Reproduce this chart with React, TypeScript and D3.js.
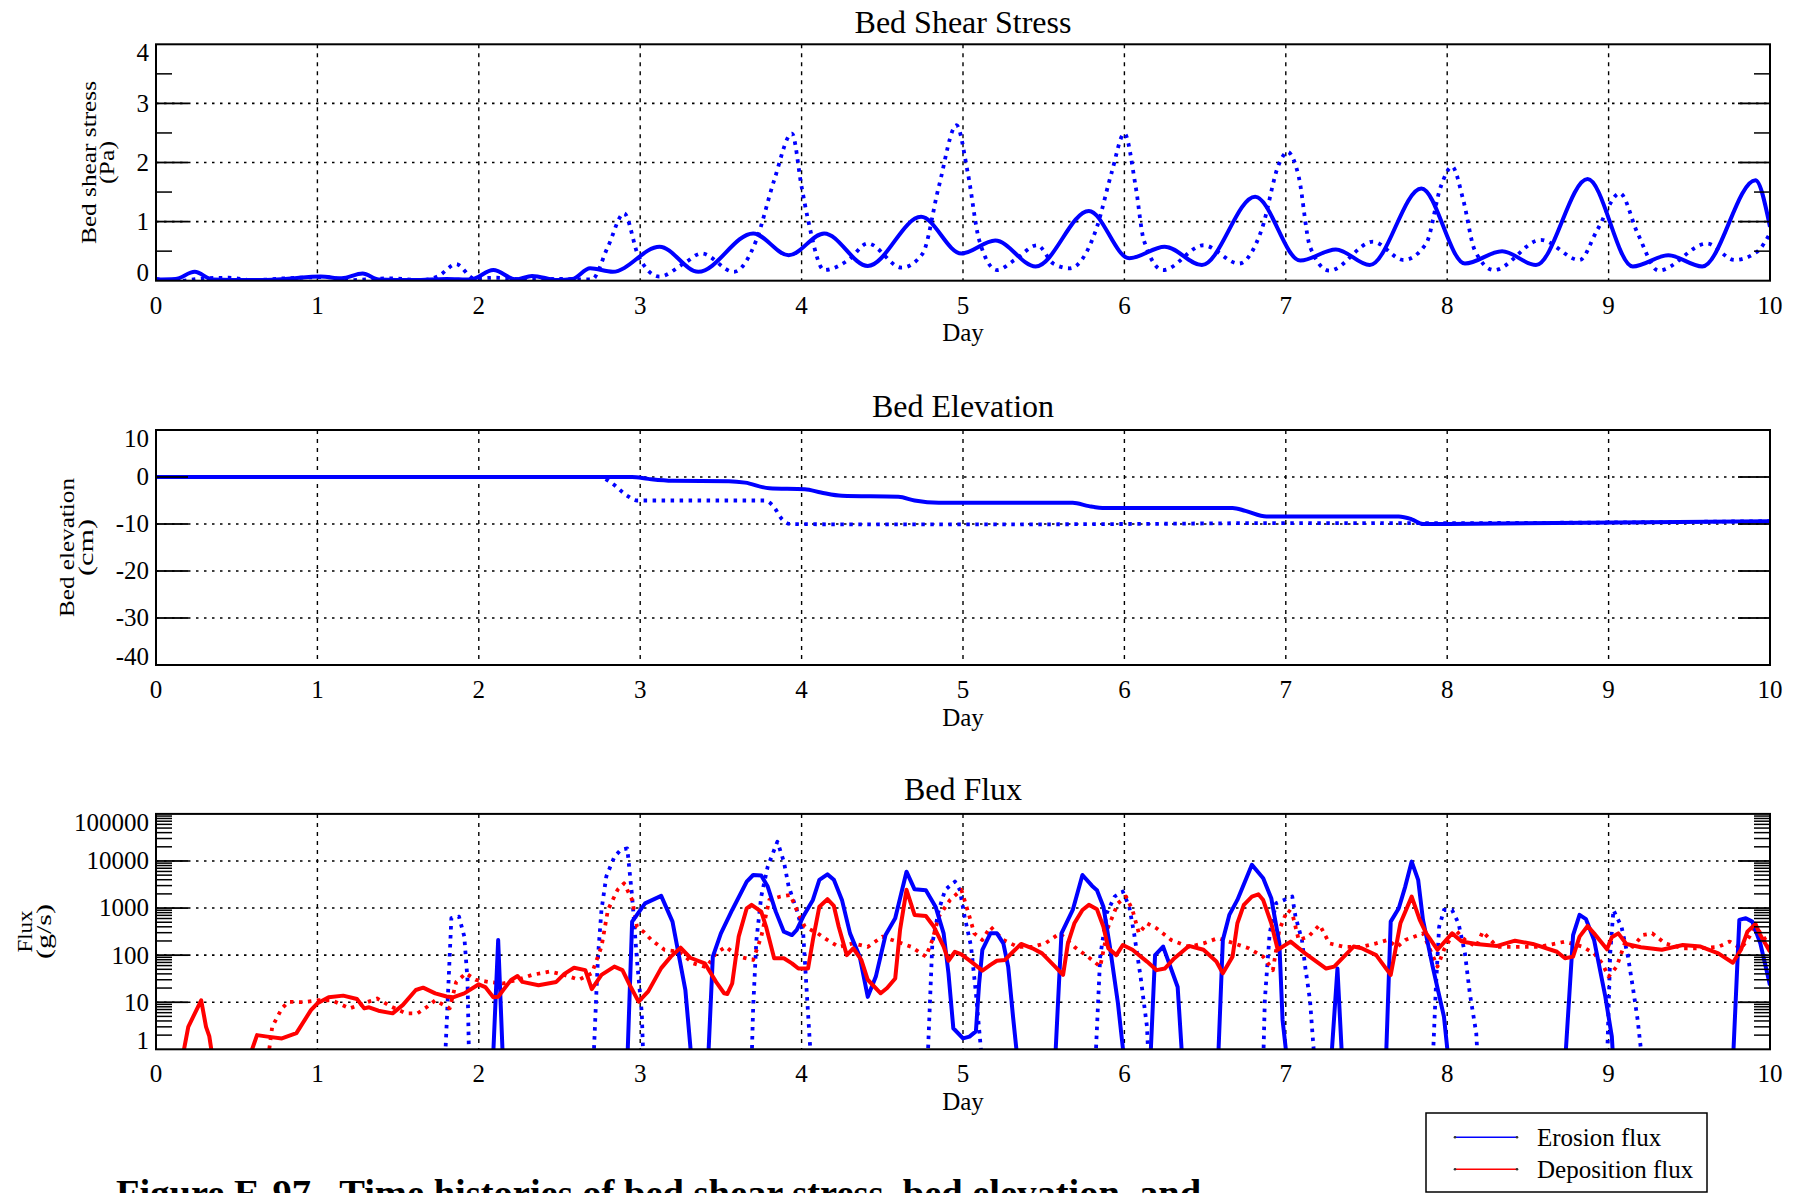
import React from 'react';
import * as d3 from 'd3';

type Pt = [number, number];

// ---- axis ticks ----
const dayTicks = [0, 1, 2, 3, 4, 5, 6, 7, 8, 9, 10];
const stressTicks = [0, 1, 2, 3, 4];
const stressMinor = [0.5, 1.5, 2.5, 3.5];
const elevTicks = [-40, -30, -20, -10, 0, 10];
const fluxTicks = [1, 10, 100, 1000, 10000, 100000];

// ---- bed shear stress (Pa) ----
const stressSolid: Pt[] = [
  [0, 0.02], [0.12, 0.03], [0.24, 0.15], [0.35, 0.02], [0.6, 0.01], [0.8, 0.03], [1.02, 0.07],
  [1.15, 0.04], [1.28, 0.12], [1.38, 0.02], [1.6, 0.01], [1.8, 0.03], [1.95, 0.02], [2.09, 0.18],
  [2.23, 0.02], [2.33, 0.08], [2.49, 0.01], [2.58, 0.03], [2.69, 0.21], [2.83, 0.15], [3.12, 0.575],
  [3.36, 0.15], [3.7, 0.8], [3.92, 0.43], [4.14, 0.8], [4.41, 0.25], [4.74, 1.08], [4.99, 0.46],
  [5.2, 0.68], [5.45, 0.24], [5.78, 1.18], [6.03, 0.38], [6.25, 0.575], [6.48, 0.265], [6.81, 1.42],
  [7.09, 0.34], [7.31, 0.53], [7.52, 0.265], [7.84, 1.56], [8.11, 0.29], [8.34, 0.5], [8.55, 0.265],
  [8.87, 1.72], [9.15, 0.24], [9.37, 0.43], [9.58, 0.24], [9.91, 1.7], [10.0, 0.91],
];
const stressDotted: Pt[] = [
  [0, 0.03], [0.15, 0.0], [0.3, 0.04], [0.45, 0.05], [0.6, 0.01], [0.8, 0.04], [1.05, 0.06],
  [1.2, 0.01], [1.45, 0.04], [1.65, 0.01], [1.75, 0.08], [1.86, 0.28], [1.97, 0.04], [2.1, 0.05],
  [2.3, 0.02], [2.5, 0.03], [2.7, 0.02], [2.8, 0.575], [2.9, 1.14], [2.99, 0.41], [3.12, 0.07],
  [3.27, 0.29], [3.38, 0.46], [3.58, 0.15], [3.72, 0.69], [3.83, 1.7], [3.94, 2.49], [4.0, 1.59],
  [4.04, 1.03], [4.14, 0.18], [4.29, 0.35], [4.41, 0.63], [4.62, 0.22], [4.75, 0.46], [4.85, 1.59],
  [4.96, 2.63], [5.03, 1.82], [5.1, 0.69], [5.21, 0.18], [5.32, 0.35], [5.46, 0.6], [5.56, 0.29],
  [5.66, 0.21], [5.83, 0.91], [5.92, 1.82], [6.0, 2.49], [6.07, 1.59], [6.12, 0.69], [6.24, 0.18],
  [6.49, 0.6], [6.71, 0.29], [6.85, 0.86], [6.96, 1.99], [7.01, 2.18], [7.08, 1.76], [7.15, 0.575],
  [7.27, 0.17], [7.54, 0.66], [7.73, 0.35], [7.87, 0.63], [7.96, 1.59], [8.03, 1.93], [8.1, 1.36],
  [8.17, 0.52], [8.29, 0.18], [8.58, 0.69], [8.82, 0.35], [8.93, 0.86], [9.07, 1.48], [9.18, 0.8],
  [9.31, 0.17], [9.61, 0.63], [9.78, 0.35], [9.92, 0.49], [10.0, 0.8],
];

// ---- bed elevation (cm) ----
const elevSolid: Pt[] = [
  [0, 0], [2.95, 0], [3.05, -0.4], [3.2, -0.8], [3.55, -0.9], [3.65, -1.2], [3.8, -2.4], [4.02, -2.6],
  [4.12, -3.3], [4.25, -4.0], [4.6, -4.2], [4.7, -5.0], [4.85, -5.5], [5.68, -5.5], [5.78, -6.2],
  [5.88, -6.6], [6.67, -6.6], [6.75, -7.2], [6.88, -8.4], [7.7, -8.4], [7.78, -9.0], [7.85, -10.0],
  [8.0, -10.0], [10.0, -9.4],
];
const elevDotted: Pt[] = [
  [0, 0], [2.75, 0], [2.82, -1.2], [2.92, -4], [2.98, -5], [3.77, -5], [3.82, -6], [3.88, -9],
  [3.93, -10], [4.5, -10.1], [5, -10.1], [6, -10], [7, -9.8], [8, -9.8], [10, -9.4],
];

// ---- bed flux (g/s); 0.5 marks values that fall below the axis ----
const erosionSolid: Pt[] = [
  [0, 0.5], [2.087, 0.5], [2.12, 210], [2.15, 0.5], [2.92, 0.5], [2.95, 515], [3.03, 1260], [3.13, 1810],
  [3.2, 515], [3.28, 18], [3.32, 0.5], [3.42, 0.5], [3.45, 93], [3.5, 290], [3.57, 910], [3.66, 3650],
  [3.7, 5040], [3.75, 4900], [3.79, 2860], [3.84, 840], [3.89, 315], [3.94, 267], [3.97, 345], [4.01, 660],
  [4.07, 1490], [4.11, 3980], [4.16, 5200], [4.2, 3980], [4.25, 1490], [4.3, 290], [4.36, 93], [4.41, 13],
  [4.46, 35], [4.52, 267], [4.58, 610], [4.65, 5930], [4.7, 2500], [4.77, 2400], [4.83, 1070], [4.88, 290],
  [4.91, 41], [4.94, 2.8], [5.0, 1.7], [5.04, 1.86], [5.08, 2.4], [5.1, 25], [5.12, 130], [5.17, 290],
  [5.21, 290], [5.25, 178], [5.28, 57], [5.31, 4.9], [5.34, 0.5], [5.57, 0.5], [5.61, 290], [5.68, 910],
  [5.74, 5040], [5.8, 2950], [5.83, 2400], [5.87, 1070], [5.91, 152], [5.96, 9.5], [5.99, 1.1], [6.0, 0.5],
  [6.16, 0.5], [6.19, 100], [6.24, 152], [6.33, 21], [6.36, 0.5], [6.58, 0.5], [6.61, 210], [6.65, 715],
  [6.7, 1490], [6.79, 8300], [6.86, 4300], [6.91, 1620], [6.96, 178], [6.98, 4.2], [7.01, 0.5], [7.28, 0.5],
  [7.32, 52], [7.35, 0.5], [7.62, 0.5], [7.65, 515], [7.7, 990], [7.74, 2860], [7.78, 9700], [7.82, 3980],
  [7.85, 560], [7.91, 57], [7.98, 4.9], [8.01, 0.5], [8.73, 0.5], [8.78, 267], [8.82, 715], [8.86, 580],
  [8.91, 210], [8.98, 13], [9.02, 1.86], [9.03, 0.5], [9.77, 0.5], [9.81, 560], [9.85, 610], [9.89, 515],
  [9.94, 178], [10.0, 23],
];
const erosionDotted: Pt[] = [
  [0, 0.5], [1.79, 0.5], [1.83, 610], [1.877, 660], [1.91, 250], [1.93, 30], [1.94, 0.5], [2.71, 0.5],
  [2.73, 21], [2.74, 110], [2.76, 910], [2.79, 4700], [2.84, 12300], [2.88, 17300], [2.92, 18500],
  [2.95, 1760], [2.98, 79], [3.01, 5.8], [3.02, 0.5], [3.69, 0.5], [3.7, 8], [3.72, 210], [3.75, 1760],
  [3.79, 7600], [3.85, 25700], [3.89, 9700], [3.92, 2860], [3.97, 910], [4.01, 290], [4.03, 21], [4.05, 1.6],
  [4.06, 0.5], [4.78, 0.5], [4.81, 178], [4.85, 910], [4.89, 2450], [4.95, 3650], [4.98, 2450], [5.01, 660],
  [5.05, 152], [5.08, 15.5], [5.11, 1.1], [5.12, 0.5], [5.82, 0.5], [5.85, 93], [5.89, 775], [5.94, 1760],
  [5.99, 2240], [6.03, 1070], [6.06, 290], [6.1, 35], [6.14, 3], [6.15, 0.5], [6.86, 0.5], [6.87, 11],
  [6.9, 290], [6.94, 1260], [6.99, 1490], [7.04, 1760], [7.06, 660], [7.1, 210], [7.12, 57], [7.15, 11],
  [7.17, 1.3], [7.18, 0.5], [7.91, 0.5], [7.93, 21], [7.95, 400], [7.98, 910], [8.03, 910], [8.07, 475],
  [8.11, 109], [8.14, 15.5], [8.18, 2.2], [8.19, 0.5], [8.99, 0.5], [9.01, 109], [9.03, 910], [9.08, 400],
  [9.12, 93], [9.15, 21], [9.18, 4.2], [9.21, 0.5], [10, 0.5],
];
const depositionSolid: Pt[] = [
  [0, 0.5], [0.157, 0.5], [0.2, 3], [0.28, 11], [0.31, 3], [0.33, 1.9], [0.356, 0.5], [0.565, 0.5],
  [0.626, 2.0], [0.69, 1.86], [0.78, 1.7], [0.87, 2.2], [0.96, 6.8], [1.0, 9.5], [1.07, 12.7], [1.16, 13.8],
  [1.245, 11.7], [1.29, 7.4], [1.32, 7.8], [1.378, 6.6], [1.466, 5.8], [1.53, 8.8], [1.61, 18.2],
  [1.655, 20.4], [1.73, 15.4], [1.8, 13.2], [1.84, 12.7], [1.91, 15.4], [2.0, 24], [2.04, 21], [2.09, 12.7],
  [2.12, 13], [2.15, 18], [2.2, 29.7], [2.24, 36], [2.27, 27], [2.37, 23], [2.48, 27], [2.53, 40], [2.59, 54],
  [2.66, 48], [2.7, 19], [2.76, 38], [2.84, 57], [2.89, 48], [2.93, 25], [2.99, 10.3], [3.05, 17], [3.13, 53],
  [3.19, 93], [3.25, 144], [3.31, 88], [3.4, 67], [3.47, 27], [3.52, 15.5], [3.54, 15], [3.57, 25],
  [3.61, 247], [3.66, 990], [3.69, 1170], [3.75, 840], [3.78, 400], [3.83, 86], [3.89, 86], [3.94, 67],
  [3.98, 52], [4.04, 52], [4.07, 210], [4.11, 1070], [4.16, 1540], [4.2, 1110], [4.23, 400], [4.28, 100],
  [4.32, 140], [4.37, 79], [4.41, 30], [4.49, 15.5], [4.53, 20], [4.58, 32], [4.61, 344], [4.65, 2440],
  [4.7, 715], [4.77, 680], [4.82, 400], [4.88, 152], [4.91, 76], [4.95, 118], [4.99, 104], [5.05, 73],
  [5.12, 47], [5.17, 62], [5.21, 76], [5.26, 79], [5.31, 118], [5.36, 173], [5.43, 140], [5.49, 109],
  [5.56, 62], [5.62, 38], [5.65, 178], [5.69, 475], [5.74, 910], [5.78, 1170], [5.83, 940], [5.87, 400],
  [5.9, 140], [5.95, 100], [5.99, 164], [6.05, 130], [6.14, 73], [6.2, 48], [6.25, 52], [6.31, 86],
  [6.4, 157], [6.49, 130], [6.57, 73], [6.61, 41], [6.67, 93], [6.7, 475], [6.74, 1170], [6.79, 1750],
  [6.83, 1960], [6.86, 1480], [6.91, 475], [6.95, 130], [7.03, 194], [7.12, 109], [7.25, 52], [7.3, 57],
  [7.42, 152], [7.47, 140], [7.56, 100], [7.65, 38], [7.71, 475], [7.78, 1750], [7.83, 560], [7.87, 290],
  [7.94, 130], [8.03, 290], [8.09, 194], [8.18, 173], [8.31, 157], [8.42, 203], [8.53, 173], [8.68, 118],
  [8.73, 86], [8.78, 93], [8.82, 247], [8.87, 417], [8.91, 290], [8.96, 178], [8.99, 133], [9.02, 240],
  [9.06, 290], [9.11, 173], [9.2, 147], [9.33, 130], [9.46, 164], [9.57, 152], [9.68, 109], [9.77, 69],
  [9.82, 130], [9.86, 316], [9.91, 460], [9.94, 267], [10.0, 118],
];
const depositionDotted: Pt[] = [
  [0, 0.5], [0.69, 0.5], [0.72, 3], [0.78, 7.4], [0.82, 10.2], [0.91, 10], [1.0, 11], [1.09, 11],
  [1.2, 7.4], [1.29, 9.5], [1.37, 12], [1.46, 8], [1.55, 5.8], [1.62, 5.8], [1.68, 8], [1.73, 11],
  [1.82, 7.4], [1.86, 27], [1.92, 41], [1.98, 30], [2.06, 27], [2.15, 25], [2.24, 30], [2.33, 38],
  [2.44, 45], [2.53, 38], [2.62, 30], [2.7, 41], [2.76, 150], [2.8, 910], [2.86, 2450], [2.9, 3350],
  [2.95, 1490], [2.98, 400], [3.02, 315], [3.07, 210], [3.15, 130], [3.24, 118], [3.33, 67], [3.41, 55],
  [3.47, 110], [3.53, 150], [3.61, 93], [3.7, 79], [3.75, 247], [3.8, 1490], [3.87, 1760], [3.93, 1900],
  [3.97, 910], [4.02, 400], [4.1, 290], [4.16, 210], [4.23, 150], [4.32, 178], [4.41, 150], [4.5, 247],
  [4.59, 194], [4.68, 150], [4.77, 93], [4.81, 210], [4.85, 660], [4.92, 1490], [4.99, 2450], [5.04, 660],
  [5.07, 290], [5.12, 210], [5.17, 400], [5.25, 210], [5.34, 150], [5.43, 150], [5.51, 178], [5.6, 290],
  [5.69, 150], [5.8, 79], [5.85, 57], [5.9, 400], [5.96, 1260], [6.01, 1760], [6.05, 910], [6.09, 290],
  [6.14, 475], [6.2, 370], [6.29, 210], [6.4, 150], [6.49, 178], [6.58, 230], [6.68, 178], [6.77, 140],
  [6.86, 93], [6.92, 48], [6.96, 345], [7.01, 910], [7.04, 775], [7.08, 210], [7.14, 247], [7.21, 440],
  [7.27, 178], [7.36, 150], [7.47, 150], [7.56, 178], [7.63, 210], [7.69, 150], [7.74, 210], [7.85, 290],
  [7.94, 57], [7.98, 130], [8.05, 345], [8.11, 210], [8.18, 150], [8.22, 315], [8.31, 150], [8.44, 150],
  [8.57, 150], [8.73, 194], [8.84, 150], [8.91, 109], [8.96, 67], [9.0, 35], [9.05, 57], [9.1, 178],
  [9.15, 150], [9.21, 267], [9.27, 290], [9.35, 178], [9.46, 140], [9.57, 140], [9.68, 150], [9.75, 194],
  [9.82, 140], [9.86, 210], [9.91, 400], [9.96, 247], [10.0, 150],
];

const BLUE = '#0000ff';
const RED = '#ff0000';
const FONT = "'Liberation Serif', 'Times New Roman', Times, serif";

const W = 1796;
const H = 1193;
const X0 = 156;
const X1 = 1770;
const x = d3.scaleLinear().domain([0, 10]).range([X0, X1]);

interface Series { data: Pt[]; color: string; dotted: boolean; smooth: boolean }
interface YLabelLine { text: string; bx: number; len: number }

interface PanelProps {
  id: string;
  top: number;
  bottom: number;
  y: d3.ScaleContinuousNumeric<number, number>;
  major: number[];
  minor: number[];
  fmt: (v: number) => string;
  title: string;
  titleY: number;
  ylab: YLabelLine[];
  series: Series[];
}

function Panel(p: PanelProps) {
  const { id, top, bottom, y, major, minor, fmt, title, titleY, ylab, series } = p;
  const cx = (X0 + X1) / 2;
  const cy = (top + bottom) / 2;
  const inner = major.filter((v) => {
    const py = y(v);
    return py > top + 1 && py < bottom - 1;
  });
  const mk = (s: Series) =>
    d3
      .line<Pt>()
      .x((d) => x(d[0]))
      .y((d) => y(d[1]))
      .curve(s.smooth ? d3.curveMonotoneX : d3.curveLinear)(s.data) || '';
  return (
    <g>
      <defs>
        <clipPath id={`clip-${id}`}>
          <rect x={X0} y={top} width={X1 - X0} height={bottom - top} />
        </clipPath>
      </defs>
      <text x={cx} y={titleY} textAnchor="middle" fontSize={32} fontFamily={FONT}>
        {title}
      </text>
      {/* grid */}
      {dayTicks.slice(1, -1).map((d) => (
        <line key={`v${d}`} x1={x(d)} x2={x(d)} y1={top} y2={bottom} stroke="#000" strokeWidth={1.4} strokeDasharray="4,5" />
      ))}
      {inner.map((v) => (
        <line key={`h${v}`} x1={X0} x2={X1} y1={y(v)} y2={y(v)} stroke="#000" strokeWidth={1.6} strokeDasharray="2.5,5.5" />
      ))}
      {/* data */}
      <g clipPath={`url(#clip-${id})`}>
        {series.map((s, i) => (
          <path
            key={i}
            d={mk(s)}
            fill="none"
            stroke={s.color}
            strokeWidth={s.dotted ? 3.8 : 4}
            strokeDasharray={s.dotted ? '3.5,5.5' : undefined}
            strokeLinejoin="round"
          />
        ))}
      </g>
      {/* frame and ticks */}
      <rect x={X0} y={top} width={X1 - X0} height={bottom - top} fill="none" stroke="#000" strokeWidth={2} />
      {inner.map((v) => (
        <g key={`t${v}`}>
          <line x1={X0} x2={X0 + 32} y1={y(v)} y2={y(v)} stroke="#000" strokeWidth={1.8} />
          <line x1={X1 - 32} x2={X1} y1={y(v)} y2={y(v)} stroke="#000" strokeWidth={1.8} />
        </g>
      ))}
      {minor.map((v) => (
        <g key={`m${v}`}>
          <line x1={X0} x2={X0 + 16} y1={y(v)} y2={y(v)} stroke="#000" strokeWidth={1.5} />
          <line x1={X1 - 16} x2={X1} y1={y(v)} y2={y(v)} stroke="#000" strokeWidth={1.5} />
        </g>
      ))}
      {/* y tick labels, kept inside the frame at the ends */}
      {major.map((v) => {
        const c = Math.min(Math.max(y(v), top + 8.3), bottom - 8.3);
        return (
          <text key={`yl${v}`} x={149} y={c + 8.4} textAnchor="end" fontSize={25} fontFamily={FONT}>
            {fmt(v)}
          </text>
        );
      })}
      {/* x tick labels */}
      {dayTicks.map((d) => (
        <text key={`xl${d}`} x={x(d)} y={bottom + 33} textAnchor="middle" fontSize={25} fontFamily={FONT}>
          {String(d)}
        </text>
      ))}
      <text x={cx} y={bottom + 60.5} textAnchor="middle" fontSize={25} fontFamily={FONT}>
        Day
      </text>
      {ylab.map((l, i) => (
        <text
          key={`ylab${i}`}
          transform={`translate(${l.bx},${cy}) rotate(-90)`}
          textAnchor="middle"
          fontSize={22}
          fontFamily={FONT}
          textLength={l.len}
          lengthAdjust="spacingAndGlyphs"
        >
          {l.text}
        </text>
      ))}
    </g>
  );
}

export default function App() {
  const yStress = d3.scaleLinear().domain([0, 4]).range([280.7, 44.3]);
  const yElev = d3.scaleLinear().domain([-40, 10]).range([665, 430]);
  const yFlux = d3.scaleLog().domain([1, 100000]).range([1049.3, 813.9]);
  const fluxMinor: number[] = [];
  for (let e = 0; e < 5; e++) for (let m = 2; m <= 9; m++) fluxMinor.push(m * Math.pow(10, e));

  return (
    <svg
      width={W}
      height={H}
      viewBox={`0 0 ${W} ${H}`}
      style={{ position: 'absolute', left: 0, top: 0, display: 'block', background: '#fff' }}
    >
      <rect x={0} y={0} width={W} height={H} fill="#fff" />
      <Panel
        id="stress"
        top={44.3}
        bottom={280.7}
        y={yStress}
        major={stressTicks}
        minor={stressMinor}
        fmt={(v) => String(v)}
        title="Bed Shear Stress"
        titleY={33}
        ylab={[
          { text: 'Bed shear stress', bx: 96, len: 163 },
          { text: '(Pa)', bx: 114, len: 43 },
        ]}
        series={[
          { data: stressDotted, color: BLUE, dotted: true, smooth: true },
          { data: stressSolid, color: BLUE, dotted: false, smooth: true },
        ]}
      />
      <Panel
        id="elev"
        top={430}
        bottom={665}
        y={yElev}
        major={elevTicks}
        minor={[]}
        fmt={(v) => String(v)}
        title="Bed Elevation"
        titleY={417}
        ylab={[
          { text: 'Bed elevation', bx: 74, len: 139 },
          { text: '(cm)', bx: 93, len: 57 },
        ]}
        series={[
          { data: elevDotted, color: BLUE, dotted: true, smooth: true },
          { data: elevSolid, color: BLUE, dotted: false, smooth: true },
        ]}
      />
      <Panel
        id="flux"
        top={813.9}
        bottom={1049.3}
        y={yFlux}
        major={fluxTicks}
        minor={fluxMinor}
        fmt={(v) => String(v)}
        title="Bed Flux"
        titleY={800}
        ylab={[
          { text: 'Flux', bx: 32, len: 42 },
          { text: '(g/s)', bx: 51, len: 55 },
        ]}
        series={[
          { data: erosionDotted, color: BLUE, dotted: true, smooth: false },
          { data: depositionDotted, color: RED, dotted: true, smooth: false },
          { data: erosionSolid, color: BLUE, dotted: false, smooth: false },
          { data: depositionSolid, color: RED, dotted: false, smooth: false },
        ]}
      />
      {/* legend */}
      <g>
        <rect x={1426} y={1113} width={281} height={79} fill="#fff" stroke="#000" strokeWidth={1.5} />
        {[
          { label: 'Erosion flux', color: BLUE, yy: 1137.3, base: 1145.5 },
          { label: 'Deposition flux', color: RED, yy: 1169.3, base: 1177.5 },
        ].map((e) => (
          <g key={e.label}>
            <line x1={1455} x2={1517} y1={e.yy} y2={e.yy} stroke={e.color} strokeWidth={1.5} />
            <circle cx={1455} cy={e.yy} r={1.3} fill="#333" />
            <circle cx={1517} cy={e.yy} r={1.3} fill="#333" />
            <text x={1537} y={e.base} fontSize={25} fontFamily={FONT}>
              {e.label}
            </text>
          </g>
        ))}
      </g>
      <text x={116} y={1206} fontSize={38.5} fontWeight="bold" fontFamily={FONT} style={{ whiteSpace: 'pre' }}>
        {'Figure E-97.  Time histories of bed shear stress, bed elevation, and'}
      </text>
    </svg>
  );
}
